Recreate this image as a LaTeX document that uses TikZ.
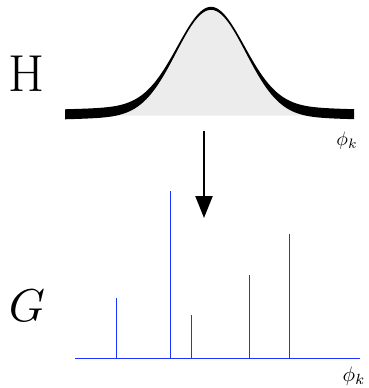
\documentclass[tikz,border=0pt]{standalone}
\usepackage{graphicx}
\usetikzlibrary{arrows.meta}
\definecolor{spikeblue}{RGB}{30, 50, 255}
\definecolor{bellgray}{RGB}{236, 236, 236}

\begin{document}
\begin{tikzpicture}[x=1pt, y=-1pt,
  declare function={
    ga(\t)=exp(-0.5*((\t-211)/34)*((\t-211)/34));
    gb(\t)=exp(-0.5*((\t-211)/120)*((\t-211)/120));
    c(\t)=117-103*(ga(\t)+0.055*gb(\t));
    w(\t)=3+7*(1-ga(\t))*(1-ga(\t));}]
  \useasboundingbox (0,0) rectangle (368,388);

  % bell curve H
  \fill[bellgray] plot[domain=65:354, samples=150] (\x, {c(\x)}) -- (354, 115.5) -- (65, 115.5) -- cycle;
  \fill[black] plot[domain=65:354, samples=150] (\x, {c(\x)-w(\x)/2})
    -- plot[domain=354:65, samples=150] (\x, {c(\x)+w(\x)/2}) -- cycle;
  \node (H) at (27, 73.5) {\fontsize{52}{54}\selectfont H};
  \node (phitop) at (347, 141) {\scalebox{1.95}{$\phi_k$}};

  % arrow
  \coordinate (arrowtop) at (204, 131);
  \coordinate (arrowtip) at (204, 218);
  \draw[-{Triangle[length=22pt, width=17pt]}, line width=2.3pt] (arrowtop) -- (arrowtip);

  % spikes G
  \draw[spikeblue, line width=1pt] (75, 358) -- (360, 358);
  \foreach \px/\py in {116/298, 170/191, 191/315, 249/275, 289/234}
    \draw[spikeblue, line width=1pt] (\px, 358) -- (\px, \py);
  \node (G) at (27, 306) {\scalebox{4.6}{$G$}};
  \node (phibot) at (354, 376) {\scalebox{2.1}{$\phi_k$}};
\end{tikzpicture}
\end{document}
